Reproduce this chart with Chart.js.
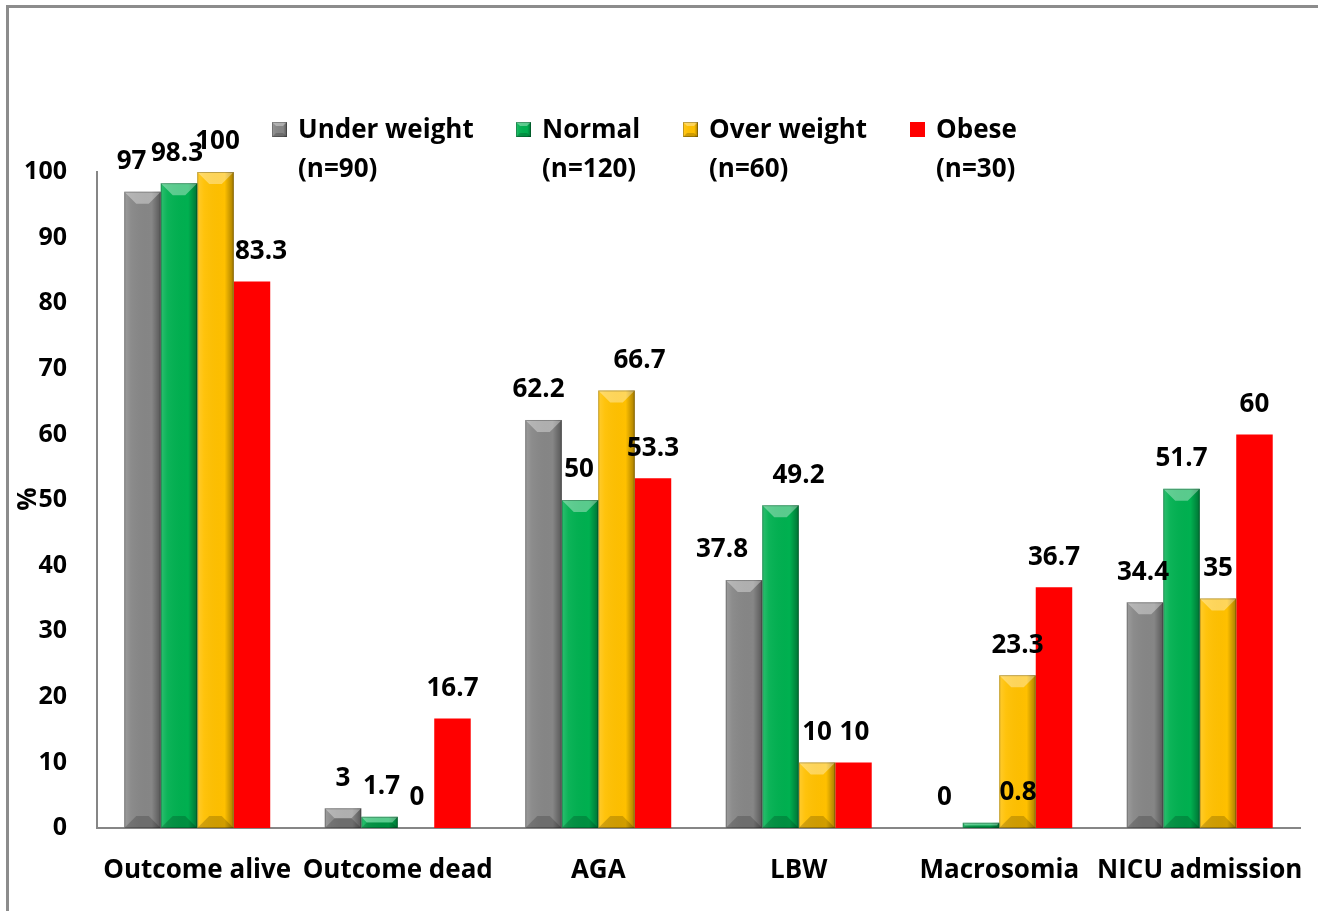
<!DOCTYPE html>
<html>
<head>
<meta charset="utf-8">
<title>Pregnancy outcome by BMI group</title>
<script src="https://cdn.jsdelivr.net/npm/chart.js@4"></script>
<style>
  html, body { margin: 0; padding: 0; background: #fff; }
  canvas { display: block; }
</style>
</head>
<body>
<canvas id="mychart" width="1318" height="911"></canvas>
<script>
// Chart data
const categories = ["Outcome alive", "Outcome dead", "AGA", "LBW", "Macrosomia", "NICU admission"];
const underWeight = [97, 3, 62.2, 37.8, 0, 34.4];
const normal = [98.3, 1.7, 50, 49.2, 0.8, 51.7];
const overWeight = [100, 0, 66.7, 10, 23.3, 35];
const obese = [83.3, 16.7, 53.3, 10, 36.7, 60];
const yTicks = [0, 10, 20, 30, 40, 50, 60, 70, 80, 90, 100];

// nudges for value labels so they don't collide (px)
const labelShift = [
  [-11, 0, -5, -22, 0, -2],
  [-2, 2, -1, 18, 37, 0],
  [2, 1, 23, 0, 0, 0],
  [9, 0, 0, 1, 0, 0],
];

const FONT = "'Open Sans', 'Liberation Sans', sans-serif";
const AXIS_GREY = "#868686";

const series = [
  { label: "Under weight", sub: "(n=90)", data: underWeight, color: "#868686", bevel: true },
  { label: "Normal", sub: "(n=120)", data: normal, color: "#00b050", bevel: true },
  { label: "Over weight", sub: "(n=60)", data: overWeight, color: "#ffc000", bevel: true },
  { label: "Obese", sub: "(n=30)", data: obese, color: "#ff0000", bevel: false },
];

// bevel look on the bars (light top edge, shaded sides)
function bevelRect(c, left, top, right, bottom, size) {
  const w = right - left, h = bottom - top;
  const b = Math.min(size, w / 2, h / 2);
  if (h <= 0) return;
  const g = c.createLinearGradient(left, 0, right, 0);
  g.addColorStop(0, "rgba(255,255,255,0.18)");
  g.addColorStop(0.18, "rgba(255,255,255,0.05)");
  g.addColorStop(0.75, "rgba(0,0,0,0)");
  g.addColorStop(1, "rgba(0,0,0,0.35)");
  c.fillStyle = g;
  c.fillRect(left, top, w, h);
  // top facet
  c.beginPath();
  c.moveTo(left, top); c.lineTo(right, top);
  c.lineTo(right - b, top + b); c.lineTo(left + b, top + b);
  c.closePath();
  c.fillStyle = "rgba(255,255,255,0.35)";
  c.fill();
  // bottom facet
  c.beginPath();
  c.moveTo(left, bottom); c.lineTo(right, bottom);
  c.lineTo(right - b, bottom - b); c.lineTo(left + b, bottom - b);
  c.closePath();
  c.fillStyle = "rgba(0,0,0,0.18)";
  c.fill();
  c.strokeStyle = "rgba(0,0,0,0.25)";
  c.lineWidth = 1;
  c.strokeRect(left + 0.5, top + 0.5, w - 1, h - 1);
}

const bevelPlugin = {
  id: "bevel",
  afterDatasetsDraw(chart) {
    const c = chart.ctx;
    c.save();
    chart.data.datasets.forEach((ds, i) => {
      if (!series[i].bevel) return;
      chart.getDatasetMeta(i).data.forEach(bar => {
        const left = bar.x - bar.width / 2, right = bar.x + bar.width / 2;
        bevelRect(c, left, bar.y, right, bar.base, 12);
      });
    });
    c.restore();
  }
};

const valueLabels = {
  id: "valueLabels",
  afterDatasetsDraw(chart) {
    const c = chart.ctx;
    c.save();
    c.font = "bold 26px " + FONT;
    c.fillStyle = "#000";
    c.textAlign = "center";
    c.textBaseline = "middle";
    chart.data.datasets.forEach((ds, i) => {
      chart.getDatasetMeta(i).data.forEach((bar, j) => {
        c.fillText(String(ds.data[j]), bar.x + labelShift[i][j], bar.y - 30);
      });
    });
    c.restore();
  }
};

// two-line legend across the top, frame and rotated "%" axis title
const decorations = {
  id: "decorations",
  afterDraw(chart) {
    const c = chart.ctx;
    c.save();
    // outer frame
    c.strokeStyle = "#8c8c8c";
    c.lineWidth = 3;
    c.beginPath();
    c.moveTo(7.5, chart.height);
    c.lineTo(7.5, 6.5);
    c.lineTo(chart.width, 6.5);
    c.stroke();

    // legend
    const itemX = [272, 516, 683, 910];
    c.font = "bold 26px " + FONT;
    c.textBaseline = "middle";
    c.textAlign = "left";
    series.forEach((s, i) => {
      const x = itemX[i];
      c.fillStyle = s.color;
      c.fillRect(x, 122, 15, 15);
      if (s.bevel) bevelRect(c, x, 122, x + 15, 137, 4);
      c.fillStyle = "#000";
      c.fillText(s.label, x + 26, 131);
      c.fillText(s.sub, x + 26, 170);
    });

    // y-axis title
    c.translate(29, 499);
    c.rotate(-Math.PI / 2);
    c.textAlign = "center";
    c.fillText("%", 0, 0);
    c.restore();
  }
};

const data = {
  labels: categories,
  datasets: series.map(s => ({
    label: s.label,
    data: s.data,
    backgroundColor: s.color,
    borderWidth: 0,
    categoryPercentage: 0.728,
    barPercentage: 1,
  })),
};

const config = {
  type: "bar",
  data: data,
  options: {
    responsive: false,
    animation: false,
    devicePixelRatio: 1,
    layout: { padding: { left: 0, right: 18, top: 172, bottom: 0 } },
    plugins: {
      legend: { display: false },
      tooltip: { enabled: false },
    },
    scales: {
      x: {
        afterFit: s => {
          s.height = 83;
          // let the long end labels run past the plot edges
          s.paddingLeft = 0;
          s.paddingRight = 0;
        },
        grid: { display: false, drawTicks: false },
        border: { display: true, color: AXIS_GREY, width: 2 },
        ticks: {
          padding: 27,
          color: "#000",
          font: { family: FONT, size: 26, weight: "bold" },
          maxRotation: 0,
          autoSkip: false,
        },
      },
      y: {
        min: 0,
        max: 100,
        afterFit: s => { s.width = 97; },
        afterBuildTicks: s => { s.ticks = yTicks.map(v => ({ value: v })); },
        grid: { display: false, drawTicks: false },
        border: { display: true, color: AXIS_GREY, width: 2 },
        ticks: {
          padding: 30,
          color: "#000",
          font: { family: FONT, size: 25, weight: "bold" },
        },
      },
    },
  },
  plugins: [bevelPlugin, valueLabels, decorations],
};

new Chart(document.getElementById("mychart"), config);
</script>
</body>
</html>
